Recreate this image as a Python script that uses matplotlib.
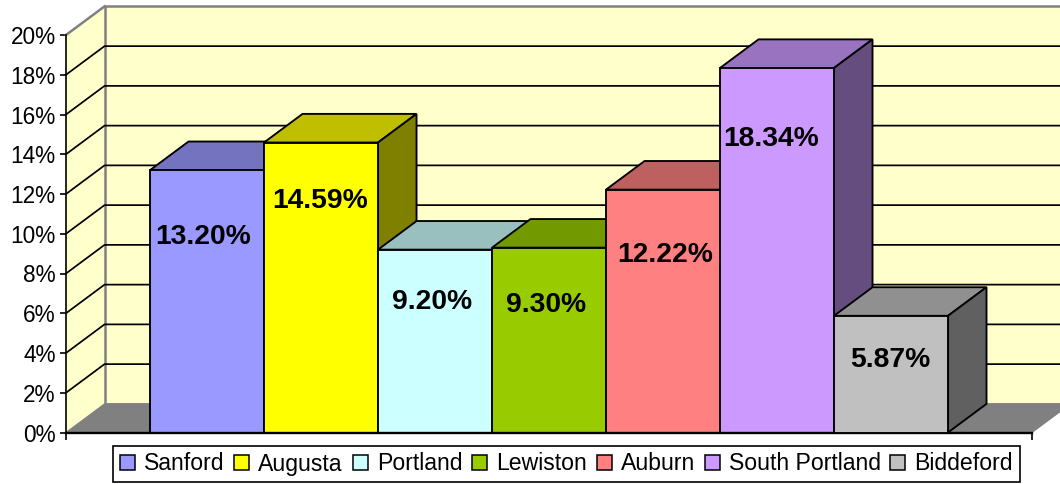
import numpy as np
from matplotlib import pyplot as plt
from matplotlib.patches import Polygon, Patch

plt.rcParams['font.family'] = ['Liberation Sans', 'DejaVu Sans']

cities = ['Sanford', 'Augusta', 'Portland', 'Lewiston', 'Auburn', 'South Portland', 'Biddeford']
values = [13.20, 14.59, 9.20, 9.30, 12.22, 18.34, 5.87]
value_labels = ['13.20%', '14.59%', '9.20%', '9.30%', '12.22%', '18.34%', '5.87%']
colors = ['#9999FF', '#FFFF00', '#CCFFFF', '#99CC00', '#FF8080', '#CC99FF', '#C0C0C0']
y_ticks = [0, 2, 4, 6, 8, 10, 12, 14, 16, 18, 20]

# how far each label sits from the bar's top front corner centre (the original is not centred)
label_dx = [-0.03, -0.01, -0.03, -0.03, 0.02, -0.05, -0.01]
label_dy = [3.38, 2.92, 2.62, 2.87, 3.27, 3.57, 2.21]

W, H = 1060, 484
dx, dy = 0.338, 1.44  # 3d depth in data units
pad = 0.737


def shade(c, f):
    rgb = np.array(plt.matplotlib.colors.to_rgb(c))
    return tuple(rgb * f)


fig = plt.figure(figsize=(W / 100, H / 100), dpi=100)
ax = fig.add_axes([66 / W, 1 - 432.5 / H, 966 / W, 397.5 / H])
ax.set_xlim(-0.5 - pad, 6.5 + pad)
ax.set_ylim(0, 20)
for s in ['top', 'right']:
    ax.spines[s].set_visible(False)
ax.patch.set_visible(False)
ax.spines['left'].set_linewidth(1.2)
ax.spines['bottom'].set_linewidth(1.7)

x0, x1 = ax.get_xlim()

# walls and floor
ax.add_patch(Polygon([(x0, 0), (x0 + dx, dy), (x0 + dx, 20 + dy), (x0, 20)], fc='#FFFFCC', ec='none', clip_on=False, zorder=1))
ax.add_patch(Polygon([(x0 + dx, dy), (x1 + dx, dy), (x1 + dx, 20 + dy), (x0 + dx, 20 + dy)], fc='#FFFFCC', ec='#808080', lw=1.8, clip_on=False, zorder=1))
ax.add_patch(Polygon([(x0, 0), (x0 + dx, dy), (x1 + dx, dy), (x1, 0)], fc='#808080', ec='#808080', lw=0.8, clip_on=False, zorder=1.5))
ax.plot([x0, x0 + dx], [20, 20 + dy], color='#808080', lw=1.8, clip_on=False, zorder=1.6)

for t in y_ticks[1:-1]:
    ax.plot([x0, x0 + dx, x1 + dx], [t, t + dy, t + dy], color='black', lw=1.25, clip_on=False, zorder=1.6)

# bars, left to right so the next bar covers the side of the one before
for i, (v, c) in enumerate(zip(values, colors)):
    l, r = i - 0.5, i + 0.5
    z = 2 + i * 0.1
    ax.add_patch(Polygon([(l, v), (r, v), (r + dx, v + dy), (l + dx, v + dy)], fc=shade(c, 0.75), ec='black', lw=1.35, clip_on=False, zorder=z))
    ax.add_patch(Polygon([(r, 0), (r + dx, dy), (r + dx, v + dy), (r, v)], fc=shade(c, 0.5), ec='black', lw=1.35, clip_on=False, zorder=z))
    ax.add_patch(Polygon([(l, 0), (r, 0), (r, v), (l, v)], fc=c, ec='black', lw=1.35, clip_on=False, zorder=z))

for i, v in enumerate(values):
    ax.text(i + label_dx[i], v - label_dy[i], value_labels[i], ha='center', va='center',
            fontsize=20.3, fontweight='bold', color='black', zorder=5)

ax.set_yticks(y_ticks)
ax.set_yticklabels([str(t) + '%' for t in y_ticks], fontsize=16.3)
ax.tick_params(axis='y', length=4.5, width=1.2, pad=3)
ax.set_xticks([x0, x1])
ax.set_xticklabels(['', ''])
ax.tick_params(axis='x', length=5, width=1.2)

handles = [Patch(fc=c, ec='black', lw=1.1) for c in colors]
leg = fig.legend(handles, cities, loc='center', bbox_to_anchor=(566.5 / W, 1 - 464 / H), ncol=7,
                 fontsize=16.6, frameon=True, fancybox=False, edgecolor='black', framealpha=1,
                 handlelength=0.65, handleheight=0.65, handletextpad=0.39, columnspacing=0.425,
                 borderpad=0.3, borderaxespad=0)
leg.get_frame().set_linewidth(1.2)

plt.savefig('out.png', dpi=100)
